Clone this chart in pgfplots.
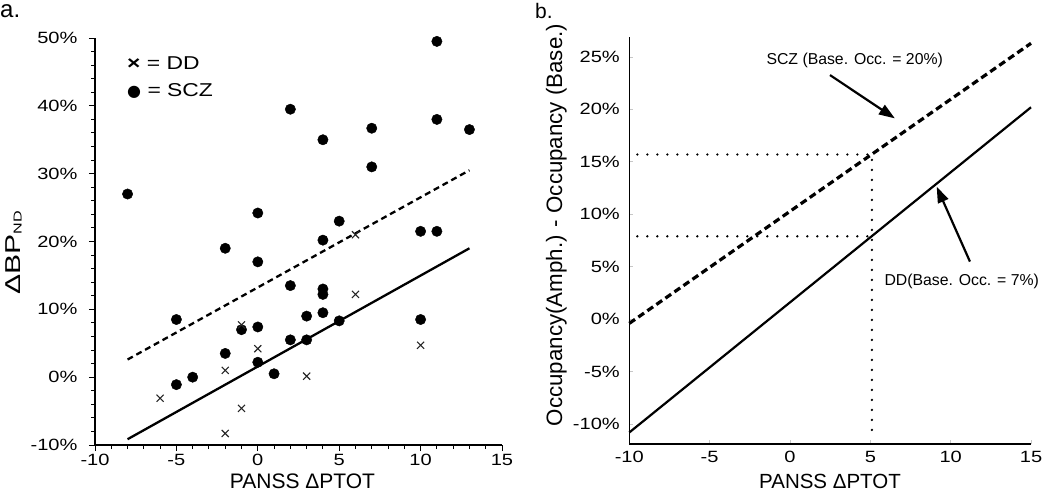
\documentclass[border=0pt]{standalone}
\usepackage{fontspec}
\setmainfont{Liberation Sans}
\newfontfamily\widefont[FakeStretch=1.23]{Liberation Sans}
\newfontfamily\ylfont[FakeStretch=1.4]{Liberation Sans}
\newfontfamily\symfont{DejaVu Sans}
\usepackage{pgfplots}
\pgfplotsset{compat=1.18}
\usetikzlibrary{arrows.meta}

\begin{document}
\begin{tikzpicture}
\path[use as bounding box] (0pt,0pt) rectangle (1050pt,491pt);

% ---------------- panel a ----------------
\begin{axis}[at={(95pt,46pt)}, anchor=south west, scale only axis,
  width=407pt, height=407pt,
  xmin=-10, xmax=15, ymin=-10, ymax=50,
  axis lines*=left,
  axis line style={line width=1.5pt},
  xtick={-10,-5,0,5,10,15}, xticklabels={-10,-5,0,5,10,15},
  ytick={-10,0,10,20,30,40,50}, yticklabels={-10\%,0\%,10\%,20\%,30\%,40\%,50\%},
  minor x tick num=4, minor y tick num=4,
  tick align=outside, major tick length=6pt, minor tick length=4pt,
  every tick/.style={black, line width=1pt},
  ticklabel style={font=\widefont\fontsize{16.3}{18}\selectfont},
  yticklabel style={xshift=-8pt},
  clip=false,
]
\addplot[only marks, mark=*, mark size=5.2pt, black] coordinates {
(11,49.5) (2,39.5) (4,35) (7,36.7) (11,38) (13,36.5) (7,31) (-8,27)
(0,24.2) (5,23) (4,20.2) (10,21.5) (11,21.5) (-2,19) (0,17) (2,13.5)
(4,13) (4,12.2) (-5,8.5) (3,9) (4,9.5) (5,8.3) (10,8.5) (-1,7.0)
(0,7.4) (2,5.5) (3,5.5) (-2,3.5) (0,2.2) (1,0.5) (-4,0) (-5,-1.1)};
\addplot[only marks, mark=x, mark size=5pt, black!85, mark options={line width=1.1pt}] coordinates {
(6,21) (6,12.2) (-1,7.7) (0,4.2) (10,4.7) (-2,1.0) (3,0.15) (-6,-3.1) (-1,-4.6) (-2,-8.3)};
\addplot[black, line width=2.3pt, dash pattern=on 6pt off 4pt] coordinates {(-8,2.6) (13,30.5)};
\addplot[black, line width=2.3pt] coordinates {(-8,-9.15) (13,19.0)};
\end{axis}

% legend of panel a
\node[anchor=base west, inner sep=0pt, font=\widefont\fontsize{18.6}{20}\selectfont] at (127pt,421pt) {{\bfseries ×} = DD};
\node[anchor=base west, inner sep=0pt, font=\widefont\fontsize{18.6}{20}\selectfont] at (127pt,394.3pt) {{\symfont\fontsize{16}{18}\selectfont ●} = SCZ};

% labels of panel a
\node[anchor=base west, inner sep=0pt, font=\fontsize{24}{26}\selectfont] at (0pt,473pt) {a.};
\node[anchor=base, inner sep=0pt, rotate=90, font=\ylfont\fontsize{21.5}{25}\selectfont] at (20pt,238pt) {ΔBP\raisebox{-1.5pt}{\fontsize{11.5}{12}\selectfont ND}};
\node[anchor=base, inner sep=0pt, font=\fontsize{21}{23}\selectfont] at (302.5pt,3pt) {PANSS ΔPTOT};

% ---------------- panel b ----------------
\begin{axis}[at={(629.3pt,47pt)}, anchor=south west, scale only axis,
  width=401.7pt, height=407pt,
  xmin=-10, xmax=15, ymin=-11.9, ymax=26.9,
  axis lines*=left,
  axis line style={line width=1.5pt},
  xtick={-10,-5,0,5,10,15}, xticklabels={-10,-5,0,5,10,15},
  ytick={-10,-5,0,5,10,15,20,25}, yticklabels={-10\%,-5\%,0\%,5\%,10\%,15\%,20\%,25\%},
  tick align=inside, major tick length=4pt,
  every tick/.style={black!22, line width=0.8pt},
  ticklabel style={font=\widefont\fontsize{16.3}{18}\selectfont},
  yticklabel style={xshift=-6pt},
  xticklabel style={yshift=-4pt},
  clip=false,
]
\addplot[black, line width=2.6pt, dash pattern=on 0pt off 10pt, line cap=round] coordinates {(-9.5,15.7) (5.1,15.7) (5.1,-11.5)};
\addplot[black, line width=2.6pt, dash pattern=on 0pt off 10pt, line cap=round] coordinates {(-9.5,7.9) (5.1,7.9)};
\addplot[black, line width=3.2pt, dash pattern=on 7pt off 4pt] coordinates {(-10,-0.4) (15,26.3)};
\addplot[black, line width=2.2pt] coordinates {(-10,-10.8) (15,20.2)};
\draw[line width=2.2pt, -{Triangle[length=16pt,width=11pt]}] (axis cs:2.49,23.27) -- (axis cs:6.53,19.14);
\draw[line width=2.2pt, -{Triangle[length=16pt,width=11pt]}] (axis cs:11.2,5.49) -- (axis cs:9.13,12.63);
\end{axis}

\node[anchor=base, inner sep=0pt, font=\fontsize{15.8}{18}\selectfont] at (854.7pt,426.7pt) {SCZ (Base. Occ. = 20\%)};
\node[anchor=base, inner sep=0pt, font=\fontsize{15.8}{18}\selectfont] at (961.7pt,206pt) {DD(Base. Occ. = 7\%)};

\node[anchor=base west, inner sep=0pt, font=\fontsize{21}{23}\selectfont] at (535pt,472.7pt) {b.};
\node[anchor=base, inner sep=0pt, rotate=90, font=\fontsize{22.3}{23}\selectfont] at (562pt,266pt) {Occupancy(Amph.) - Occupancy (Base.)};
\node[anchor=base, inner sep=0pt, font=\fontsize{20.5}{23}\selectfont] at (830pt,3pt) {PANSS ΔPTOT};
\end{tikzpicture}
\end{document}
